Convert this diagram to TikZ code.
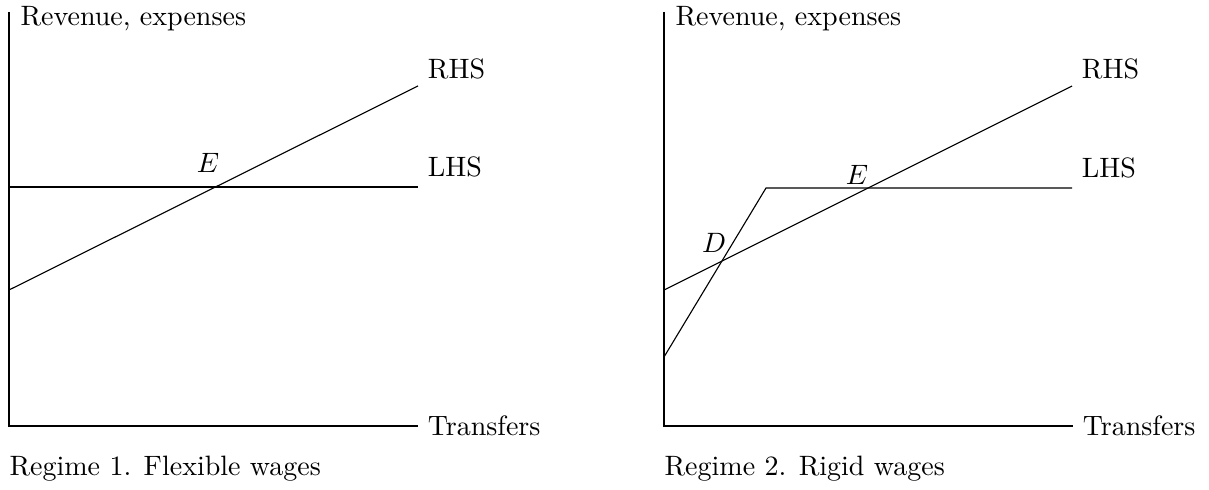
\documentclass[tikz,border=0pt]{standalone}
\begin{document}
\begin{tikzpicture}[x=0.357pt,y=-0.357pt,
  axis/.style={line width=0.4pt},
  curve/.style={line width=0.4pt},
  lbl/.style={inner sep=0pt},
  rhslbl/.style={above right,yshift=-1.2pt}]
\useasboundingbox (0,0) rectangle (1209,490);
% ---------- Regime 1 ----------
\coordinate (ytopA) at (9,12);
\coordinate (oA) at (9,426);
\coordinate (xendA) at (418,426);
\coordinate (rhsA0) at (9,290);
\coordinate (rhsA1) at (418,86);
\coordinate (lhsA0) at (9,187);
\coordinate (lhsA1) at (418,187);
\draw[axis] (ytopA) -- (oA) -- (xendA);
\draw[curve] (rhsA0) -- (rhsA1);
\draw[curve] (lhsA0) -- (lhsA1);
\node[right] (trA) at (xendA) {Transfers};
\node[rhslbl] (rA) at (rhsA1) {RHS};
\node[above right] (lA) at (lhsA1) {LHS};
\node[lbl,anchor=base west] (revA) at (20,26) {Revenue, expenses};
\node[lbl] (eA) at (208,163) {$E$};
\node[lbl,anchor=base west] (capA) at (9,476) {Regime 1. Flexible wages};
% ---------- Regime 2 ----------
\coordinate (ytopB) at (664,12);
\coordinate (oB) at (664,426);
\coordinate (xendB) at (1073,426);
\coordinate (rhsB0) at (664,290);
\coordinate (rhsB1) at (1072,86);
\coordinate (lhsB0) at (664,357);
\coordinate (kinkB) at (766,188);
\coordinate (lhsB1) at (1072,188);
\draw[axis] (ytopB) -- (oB) -- (xendB);
\draw[curve] (rhsB0) -- (rhsB1);
\draw[curve] (lhsB0) -- (kinkB) -- (lhsB1);
\node[right] (trB) at (xendB) {Transfers};
\node[rhslbl] (rB) at (rhsB1) {RHS};
\node[above right] (lB) at (lhsB1) {LHS};
\node[lbl,anchor=base west] (revB) at (675,26) {Revenue, expenses};
\node[lbl] (dB) at (714,243) {$D$};
\node[lbl] (eB) at (857,175) {$E$};
\node[lbl,anchor=base west] (capB) at (664,476) {Regime 2. Rigid wages};
\end{tikzpicture}
\end{document}
